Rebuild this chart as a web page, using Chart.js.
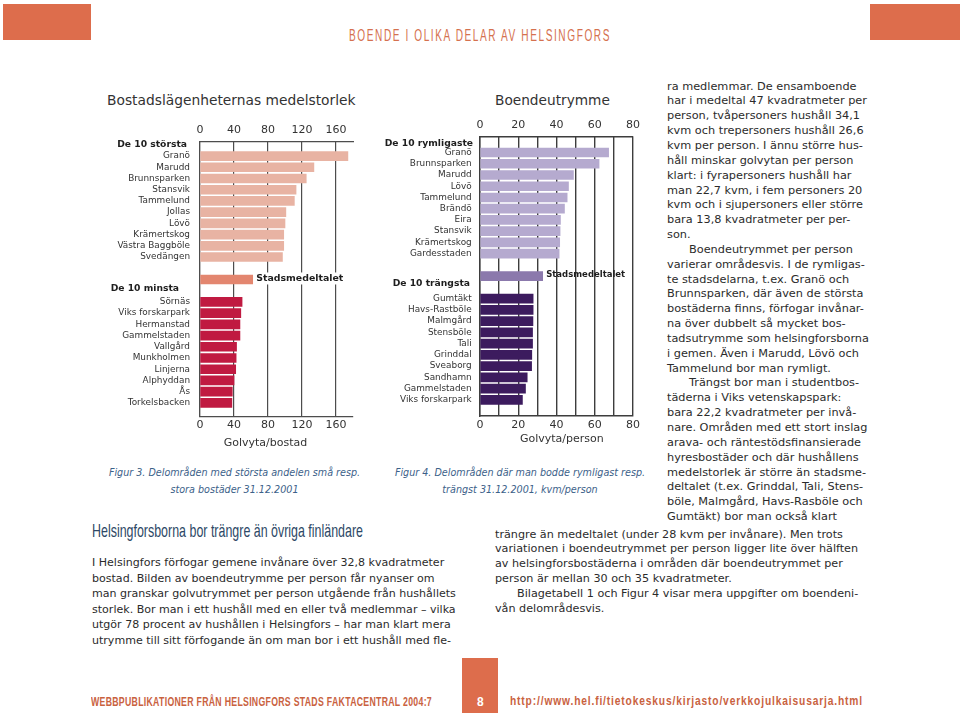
<!DOCTYPE html>
<html>
<head>
<meta charset="utf-8">
<script src="https://cdn.jsdelivr.net/npm/chart.js@4.4.1/dist/chart.umd.min.js"></script>
<style>
body { margin: 0; background: #fff; }
#page { position: relative; width: 960px; height: 715px; overflow: hidden; font-family: "DejaVu Sans", Verdana, sans-serif; color: #2b2b2b; }
.abs { position: absolute; white-space: nowrap; }
.fit { display: inline-block; transform-origin: 0 50%; font-family: "Liberation Sans", Arial, sans-serif; }
.orange { position: absolute; background: #dd6d4c; }
.block { position: absolute; white-space: nowrap; }
.ind { padding-left: 22px; }
.cap { position: absolute; text-align: center; white-space: nowrap; font-style: italic; font-size: 9.6px; line-height: 17px; color: #3c6189; }
canvas { position: absolute; }
</style>
</head>
<body>
<div id="page">
  <div class="orange" style="left:3px;top:4px;width:88px;height:36px"></div>
  <div class="orange" style="left:870px;top:4px;width:90px;height:36px"></div>
  <div class="abs" style="left:349px;top:28px;line-height:16px">
    <span class="fit" data-w="262" style="font-size:16px;letter-spacing:2.5px;color:#d5714f">BOENDE I OLIKA DELAR AV HELSINGFORS</span>
  </div>

  <div class="abs" style="left:107px;top:93px;font-size:13.8px;line-height:14px;color:#333">Bostadslägenheternas medelstorlek</div>
  <div class="abs" style="left:495px;top:93px;font-size:13.7px;line-height:14px;color:#333">Boendeutrymme</div>

  <canvas id="chartSize" width="262" height="345" style="left:100px;top:110px"></canvas>
  <canvas id="chartSpace" width="280" height="345" style="left:370px;top:110px"></canvas>

  <div class="cap" style="left:107px;top:464px;width:255px">Figur 3. Delområden med största andelen små resp.<br>stora bostäder 31.12.2001</div>
  <div class="cap" style="left:389px;top:464px;width:262px">Figur 4. Delområden där man bodde rymligast resp.<br>trängst 31.12.2001, kvm/person</div>

  <div class="abs" style="left:92px;top:521px;line-height:19px">
    <span class="fit" data-w="271" style="font-size:19px;color:#2d4866">Helsingforsborna bor trängre än övriga finländare</span>
  </div>

  <div class="block" style="left:667px;top:79.6px;line-height:14.85px;font-size:11.3px">
    <div>ra medlemmar. De ensamboende</div>
    <div>har i medeltal 47 kvadratmeter per</div>
    <div>person, tvåpersoners hushåll 34,1</div>
    <div>kvm och trepersoners hushåll 26,6</div>
    <div>kvm per person. I ännu större hus-</div>
    <div>håll minskar golvytan per person</div>
    <div>klart: i fyrapersoners hushåll har</div>
    <div>man 22,7 kvm, i fem personers 20</div>
    <div>kvm och i sjupersoners eller större</div>
    <div>bara 13,8 kvadratmeter per per-</div>
    <div>son.</div>
    <div class="ind">Boendeutrymmet per person</div>
    <div>varierar områdesvis. I de rymligas-</div>
    <div>te stadsdelarna, t.ex. Granö och</div>
    <div>Brunnsparken, där även de största</div>
    <div>bostäderna finns, förfogar invånar-</div>
    <div>na över dubbelt så mycket bos-</div>
    <div>tadsutrymme som helsingforsborna</div>
    <div>i gemen. Även i Marudd, Lövö och</div>
    <div>Tammelund bor man rymligt.</div>
    <div class="ind">Trängst bor man i studentbos-</div>
    <div>täderna i Viks vetenskapspark:</div>
    <div>bara 22,2 kvadratmeter per invå-</div>
    <div>nare. Områden med ett stort inslag</div>
    <div>arava- och räntestödsfinansierade</div>
    <div>hyresbostäder och där hushållens</div>
    <div>medelstorlek är större än stadsme-</div>
    <div>deltalet (t.ex. Grinddal, Tali, Stens-</div>
    <div>böle, Malmgård, Havs-Rasböle och</div>
    <div>Gumtäkt) bor man också klart</div>
  </div>

  <div class="block" style="left:495px;top:527.6px;line-height:14.85px;font-size:11.2px">
    <div>trängre än medeltalet (under 28 kvm per invånare). Men trots</div>
    <div>variationen i boendeutrymmet per person ligger lite över hälften</div>
    <div>av helsingforsbostäderna i områden där boendeutrymmet per</div>
    <div>person är mellan 30 och 35 kvadratmeter.</div>
    <div class="ind">Bilagetabell 1 och Figur 4 visar mera uppgifter om boendeni-</div>
    <div>vån delområdesvis.</div>
  </div>

  <div class="block" style="left:92px;top:555.2px;line-height:15.5px;font-size:11.05px">
    <div>I Helsingfors förfogar gemene invånare över 32,8 kvadratmeter</div>
    <div>bostad. Bilden av boendeutrymme per person får nyanser om</div>
    <div>man granskar golvutrymmet per person utgående från hushållets</div>
    <div>storlek. Bor man i ett hushåll med en eller två medlemmar – vilka</div>
    <div>utgör 78 procent av hushållen i Helsingfors – har man klart mera</div>
    <div>utrymme till sitt förfogande än om man bor i ett hushåll med fle-</div>
  </div>

  <div class="orange" style="left:462px;top:658px;width:36px;height:55px"></div>
  <div class="abs" style="left:477px;top:696px;line-height:12px;font-family:'Liberation Sans',sans-serif;font-weight:bold;font-size:12px;color:#fff">8</div>
  <div class="abs" style="left:91px;top:694.5px;line-height:12px">
    <span class="fit" data-w="341" style="font-weight:bold;font-size:12px;letter-spacing:0.4px;color:#c9623f">WEBBPUBLIKATIONER FRÅN HELSINGFORS STADS FAKTACENTRAL 2004:7</span>
  </div>
  <div class="abs" style="left:510px;top:694px;line-height:12px">
    <span class="fit" data-w="353" style="font-weight:bold;font-size:12px;letter-spacing:1px;color:#c9623f">http://www.hel.fi/tietokeskus/kirjasto/verkkojulkaisusarja.html</span>
  </div>
</div>

<script>
// Figur 3: bostadens medelstorlek (m2), de 10 största och de 10 minsta
const largestAreas = ['Granö', 'Marudd', 'Brunnsparken', 'Stansvik', 'Tammelund', 'Jollas', 'Lövö', 'Krämertskog', 'Västra Baggböle', 'Svedängen'];
const largestSize = [174, 134, 125, 113, 111, 101, 100, 98.5, 98.5, 97];
const smallestAreas = ['Sörnäs', 'Viks forskarpark', 'Hermanstad', 'Gammelstaden', 'Vallgård', 'Munkholmen', 'Linjerna', 'Alphyddan', 'Ås', 'Torkelsbacken'];
const smallestSize = [49.5, 48, 47, 47, 43, 42.5, 42, 40, 38, 37.5];
const citySize = 62;
const sizeTicks = [0, 40, 80, 120, 160];

// Figur 4: golvyta per person (m2), de 10 rymligaste och de 10 trängsta
const roomiestAreas = ['Granö', 'Brunnsparken', 'Marudd', 'Lövö', 'Tammelund', 'Brändö', 'Eira', 'Stansvik', 'Krämertskog', 'Gardesstaden'];
const roomiestSpace = [67.3, 62.3, 48.9, 46.3, 45.6, 44.2, 42.1, 41.9, 41.7, 41.4];
const crampedAreas = ['Gumtäkt', 'Havs-Rastböle', 'Malmgård', 'Stensböle', 'Tali', 'Grinddal', 'Sveaborg', 'Sandhamn', 'Gammelstaden', 'Viks forskarpark'];
const crampedSpace = [27.8, 27.8, 27.7, 27.5, 27.5, 27.1, 27.0, 24.7, 23.8, 22.2];
const citySpace = 32.8;
const spaceTicks = [0, 20, 40, 60, 80];

const FONT = 'DejaVu Sans';

// group headers, the label next to the city bar and the axis title
const sectionLabels = {
    id: 'sectionLabels',
    afterDatasetsDraw(chart, args, opts) {
        const {ctx, chartArea, scales} = chart;
        ctx.save();
        ctx.textBaseline = 'middle';
        ctx.fillStyle = '#1e1e1e';
        ctx.font = 'bold ' + opts.headerSize + 'px "' + FONT + '"';
        ctx.textAlign = 'right';
        opts.headers.forEach((h) => {
            ctx.fillText(h.text, chartArea.left - h.inset, scales.y.getPixelForValue(h.at));
        });

        const bar = chart.getDatasetMeta(0).data[opts.avgIndex];
        ctx.font = 'bold ' + opts.avgSize + 'px "' + FONT + '"';
        ctx.textAlign = 'left';
        const tx = bar.x + opts.avgGap;
        const ty = bar.y - 1;
        if (opts.avgBg) {
            const w = ctx.measureText(opts.avgText).width;
            ctx.fillStyle = '#fff';
            ctx.fillRect(tx - 1, ty - 6, w + 2, 12);
            ctx.fillStyle = '#1e1e1e';
        }
        ctx.fillText(opts.avgText, tx, ty);

        ctx.font = '11px "' + FONT + '"';
        ctx.textAlign = 'center';
        ctx.fillStyle = '#333';
        ctx.fillText(opts.titleText, scales.x.getPixelForValue(opts.titleAt), chartArea.bottom + opts.titleGap);
        ctx.restore();
    }
};

function makeChart(id, o) {
    const rows = o.top.concat(['', 'Stadsmedeltalet', ''], o.bottom);
    const vals = o.topVals.concat([null, o.avg, null], o.bottomVals);
    const avgRow = o.top.length + 1;
    const points = [];
    const colors = [];
    vals.forEach((v, i) => {
        if (v === null) return;
        points.push({x: v, y: i});
        colors.push(i < avgRow ? o.colors[0] : (i === avgRow ? o.colors[1] : o.colors[2]));
    });
    const gridValues = [];
    for (let v = 0; v <= o.max; v += o.gridStep) gridValues.push(v);

    const tickFont = {family: FONT, size: 11};
    const xTicks = (pad) => ({
        autoSkip: false, maxRotation: 0, padding: pad, color: '#333', font: tickFont,
        callback: (v) => o.tickVals.includes(v) ? v : ''
    });

    return new Chart(document.getElementById(id), {
        type: 'bar',
        data: {
            datasets: [{data: points, backgroundColor: colors, borderWidth: 0, barThickness: 9}]
        },
        options: {
            indexAxis: 'y',
            responsive: false,
            animation: false,
            layout: {padding: {left: 0, right: o.padRight, top: 0, bottom: 0}},
            plugins: {
                legend: {display: false},
                tooltip: {enabled: false},
                sectionLabels: {
                    headers: o.headers, headerSize: 9.2,
                    avgIndex: points.findIndex((p) => p.y === avgRow),
                    avgText: rows[avgRow], avgSize: o.avgSize, avgGap: 3.5, avgBg: o.avgBg,
                    titleText: o.title, titleAt: o.titleAt, titleGap: o.titleGap
                }
            },
            scales: {
                y: {
                    type: 'linear', reverse: true, min: o.yMin, max: o.yMax,
                    afterBuildTicks: (s) => { s.ticks = rows.map((r, i) => ({value: i})); },
                    afterFit: (s) => { s.width = o.yWidth; },
                    ticks: {
                        autoSkip: false, padding: o.labelPad, color: '#333',
                        font: {family: FONT, size: 8.9},
                        callback: (v) => rows[v] === 'Stadsmedeltalet' ? '' : rows[v]
                    },
                    grid: {display: false, drawTicks: false},
                    border: {display: true, color: o.line, width: o.lineW}
                },
                x: {
                    type: 'linear', position: 'bottom', min: 0, max: o.max,
                    afterBuildTicks: (s) => { s.ticks = gridValues.map((v) => ({value: v})); },
                    afterFit: (s) => { s.height = o.bottomH; },
                    ticks: xTicks(o.bottomPad),
                    grid: {color: o.line, lineWidth: o.lineW, drawTicks: false},
                    border: {display: true, color: o.line, width: o.lineW}
                },
                x2: {
                    type: 'linear', position: 'top', min: 0, max: o.max,
                    afterBuildTicks: (s) => { s.ticks = gridValues.map((v) => ({value: v})); },
                    afterFit: (s) => { s.height = o.topH; },
                    ticks: xTicks(o.topPad),
                    grid: {display: false, drawTicks: false},
                    border: {display: true, color: o.line, width: o.lineW}
                }
            }
        },
        plugins: [sectionLabels]
    });
}

makeChart('chartSize', {
    top: largestAreas, topVals: largestSize,
    bottom: smallestAreas, bottomVals: smallestSize,
    avg: citySize, tickVals: sizeTicks, max: 180, gridStep: 40,
    colors: ['#e8b3a3', '#e3866f', '#c01a41'],
    line: '#4d4d4d', lineW: 1.2,
    yMin: -0.72, yMax: 22.7, yWidth: 100, labelPad: 10, padRight: 9,
    topH: 32, bottomH: 38.3, topPad: 5.4, bottomPad: 2,
    headers: [{text: 'De 10 största', at: -0.98, inset: 13}, {text: 'De 10 minsta', at: 11.8, inset: 21}],
    avgSize: 9.4, avgBg: true,
    title: 'Golvyta/bostad', titleAt: 77, titleGap: 26.3
});

makeChart('chartSpace', {
    top: roomiestAreas, topVals: roomiestSpace,
    bottom: crampedAreas, bottomVals: crampedSpace,
    avg: citySpace, tickVals: spaceTicks, max: 80, gridStep: 10,
    colors: ['#b5aacf', '#8b79ac', '#3c1b5e'],
    line: '#3d3d3d', lineW: 1.4,
    yMin: -0.9, yMax: 22.9, yWidth: 110, labelPad: 8.3, padRight: 17.1,
    topH: 26.3, bottomH: 39, topPad: 4.7, bottomPad: 2.4,
    headers: [{text: 'De 10 rymligaste', at: -0.77, inset: 7}, {text: 'De 10 trängsta', at: 11.67, inset: 10}],
    avgSize: 8.5, avgBg: false,
    title: 'Golvyta/person', titleAt: 42.8, titleGap: 23
});

// squeeze the condensed header/footer lines to their printed widths
document.querySelectorAll('.fit').forEach((el) => {
    const w = el.getBoundingClientRect().width;
    el.style.transform = 'scaleX(' + (el.dataset.w / w) + ')';
});
</script>
</body>
</html>
